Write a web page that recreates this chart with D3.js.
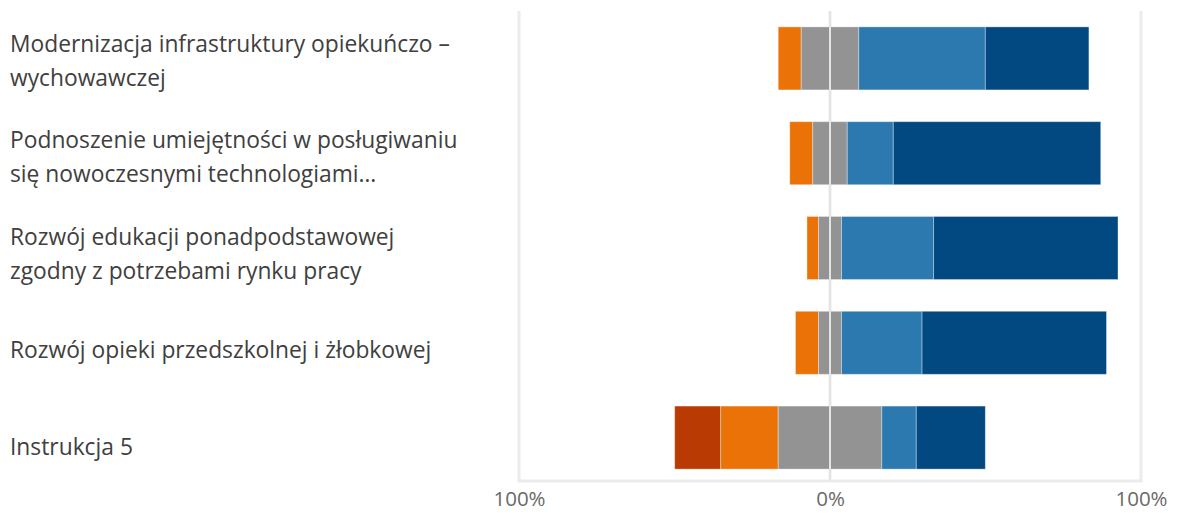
<!DOCTYPE html>
<html><head><meta charset="utf-8">
<script src="https://cdn.jsdelivr.net/npm/d3@7"></script>
<style>
html,body{margin:0;padding:0;background:#fff;}
svg{display:block;}
</style></head>
<body>
<svg id="chart" width="1177" height="513"></svg>
<script>
// Data (percent of responses, n=27)
const categories = [
  "Modernizacja infrastruktury opiekuńczo –\nwychowawczej",
  "Podnoszenie umiejętności w posługiwaniu\nsię nowoczesnymi technologiami…",
  "Rozwój edukacji ponadpodstawowej\nzgodny z potrzebami rynku pracy",
  "Rozwój opieki przedszkolnej i żłobkowej",
  "Instrukcja 5"
];
const stronglyDisagree = [0, 0, 0, 0, 14.8];
const disagree         = [7.4, 7.4, 3.7, 7.4, 18.5];
const neutral          = [18.5, 11.1, 7.4, 7.4, 33.3];
const agree            = [40.7, 14.8, 29.6, 25.9, 11.1];
const stronglyAgree    = [33.3, 66.7, 59.3, 59.3, 22.2];
const tickValues = [-100, 0, 100];
const tickLabels = ["100%", "0%", "100%"];

const colors = ["#B93A03", "#EA7207", "#939393", "#2C79B0", "#024881"];

const svg = d3.select("#chart");
const x = d3.scaleLinear().domain([-100, 100]).range([519, 1141]);
const y = d3.scaleBand().domain(categories).range([11, 485]).paddingInner(0.335).paddingOuter(0.1675);
const yLabel = d3.scaleBand().domain(categories).range([12.75, 495.25]);

// gridlines
const gridTop = 11, gridBottom = 481;
svg.append("g").selectAll("line").data(tickValues).join("line")
  .attr("x1", d => x(d)).attr("x2", d => x(d))
  .attr("y1", gridTop).attr("y2", gridBottom)
  .attr("stroke", "#ebebeb").attr("stroke-width", 3);
svg.append("line").attr("x1", x(-100) - 1.5).attr("x2", x(100) + 1.5)
  .attr("y1", gridBottom).attr("y2", gridBottom)
  .attr("stroke", "#ebebeb").attr("stroke-width", 3);

// stacked diverging segments
const rows = categories.map((c, i) => {
  const vals = [stronglyDisagree[i], disagree[i], neutral[i], agree[i], stronglyAgree[i]];
  let start = -(vals[0] + vals[1] + vals[2] / 2);
  return vals.map((v, k) => { const s = start; start += v; return {cat: c, k, x0: s, x1: start, v}; });
});
const segs = rows.flat().filter(d => d.v > 0);
svg.append("g").selectAll("rect").data(segs).join("rect")
  .attr("x", d => x(d.x0)).attr("width", d => x(d.x1) - x(d.x0))
  .attr("y", d => y(d.cat)).attr("height", y.bandwidth())
  .attr("fill", d => colors[d.k])
  .attr("stroke", "rgba(255,255,255,0.35)").attr("stroke-width", 1);

// zero line over bars
svg.append("line").attr("x1", x(0)).attr("x2", x(0))
  .attr("y1", gridTop).attr("y2", gridBottom)
  .attr("stroke", "#e4e4e4").attr("stroke-width", 2);

// axis tick labels
const axis = d3.axisBottom(x).tickValues(tickValues).tickFormat((d, i) => tickLabels[i]).tickSize(0).tickPadding(0);
const ax = svg.append("g").attr("transform", `translate(0,506)`).call(axis);
ax.select(".domain").remove();
ax.selectAll("text").attr("font-family", "'Open Sans', sans-serif").attr("font-size", 20.5)
  .attr("fill", "#6a6a6a").attr("y", 0).attr("dy", 0);

// category labels
const lg = svg.append("g");
categories.forEach(c => {
  const lines = c.split("\n");
  const cy = yLabel(c) + yLabel.bandwidth() / 2;
  const lh = 34;
  const t = lg.append("text").attr("x", 10)
    .attr("font-family", "'Open Sans', sans-serif").attr("font-size", 22.8)
    .attr("fill", "#404040");
  lines.forEach((ln, j) => {
    t.append("tspan").attr("x", 10)
      .attr("y", cy + (j - (lines.length - 1) / 2) * lh)
      .attr("dy", "0.35em").text(ln);
  });
});
</script>
</body></html>
